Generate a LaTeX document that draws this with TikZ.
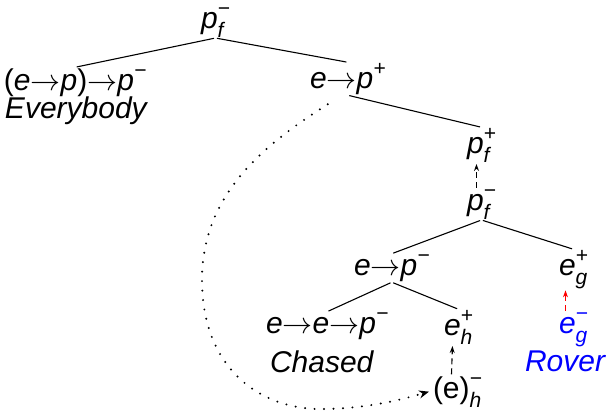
\RequirePackage{fix-cm}
\documentclass[tikz,border=0pt]{standalone}
\usepackage{fontspec}
\setmainfont{Liberation Sans}
\usetikzlibrary{arrows.meta}
\newcommand{\smallsz}{\fontsize{21}{21}\selectfont}
\newcommand{\subsup}[2]{\makebox[0pt][l]{\raisebox{-0.3em}{\smallsz #1}}\raisebox{0.42em}{\smallsz #2}}
\newcommand{\suponly}[1]{\raisebox{0.42em}{\smallsz #1}}
\newcommand{\arr}{$\mathord{\rightarrow}$}
\begin{document}
\begin{tikzpicture}[x=1pt,y=-1pt,
  lbl/.style={anchor=base west,inner sep=0.8pt,font=\fontsize{30}{32}\selectfont\itshape},
  edge/.style={line width=1.1pt,shorten <=1.5pt,shorten >=1.5pt},
  uparrow/.style={line width=1.1pt,dash pattern=on 6pt off 4pt,shorten <=1pt,shorten >=1pt,-{Stealth[length=7pt,width=5pt]}},
  dotline/.style={line width=2.2pt,line cap=round,dash pattern=on 0pt off 9.5pt,-{Stealth[length=10pt,width=8pt]}}]
\useasboundingbox (0,0) rectangle (609,410);
\node[lbl] (root) at (200,28) {p\subsup{f}{−}};
\node[lbl] (evp) at (3,90) {{\upshape(}e\arr p{\upshape)}\arr p\suponly{−}};
\node[lbl] (every) at (4,118) {Everybody};
\node[lbl] (ep) at (309,88) {e\arr p\suponly{+}};
\node[lbl] (pfp) at (466,153) {p\subsup{f}{+}};
\node[lbl] (pfm) at (466,210) {p\subsup{f}{−}};
\node[lbl] (epm) at (353,275) {e\arr p\suponly{−}};
\node[lbl] (egp) at (558,275) {e\subsup{g}{+}};
\node[lbl] (eep) at (265,333) {e\arr e\arr p\suponly{−}};
\node[lbl] (chased) at (269,372) {Chased};
\node[lbl] (ehp) at (443,335) {e\subsup{h}{+}};
\node[lbl] (ehm) at (432,398) {{\upshape(e)}\subsup{h}{−}};
\node[lbl,text=blue] (egm) at (558,333) {e\subsup{g}{−}};
\node[lbl,text=blue] (rover) at (524,371) {Rover};
\draw[edge] (root.south) -- (evp.north);
\draw[edge] (root.south) -- (ep.north);
\draw[edge] (ep.south) -- (pfp.north);
\draw[uparrow] ([xshift=-5pt]pfm.north) -- ([xshift=-5pt]pfp.south);
\draw[edge] (pfm.south) -- (epm.north);
\draw[edge] (pfm.south) -- (egp.north);
\draw[edge] (epm.south) -- (eep.north);
\draw[edge] (epm.south) -- (ehp.north);
\draw[uparrow] ([xshift=-6pt]ehm.north) -- ([xshift=-6pt]ehp.south);
\draw[uparrow,red] ([xshift=-8pt]egm.north) -- ([xshift=-8pt]egp.south);
\coordinate (ds) at ([xshift=-20pt,yshift=-9pt]ep.south);
\draw[dotline] (ds) .. controls (255,150) and (202,200) .. (202,280)
  .. controls (202,370) and (262,409) .. (320,409)
  .. controls (365,409) and (400,400) .. ([xshift=-3pt]ehm.west);
\end{tikzpicture}
\end{document}
